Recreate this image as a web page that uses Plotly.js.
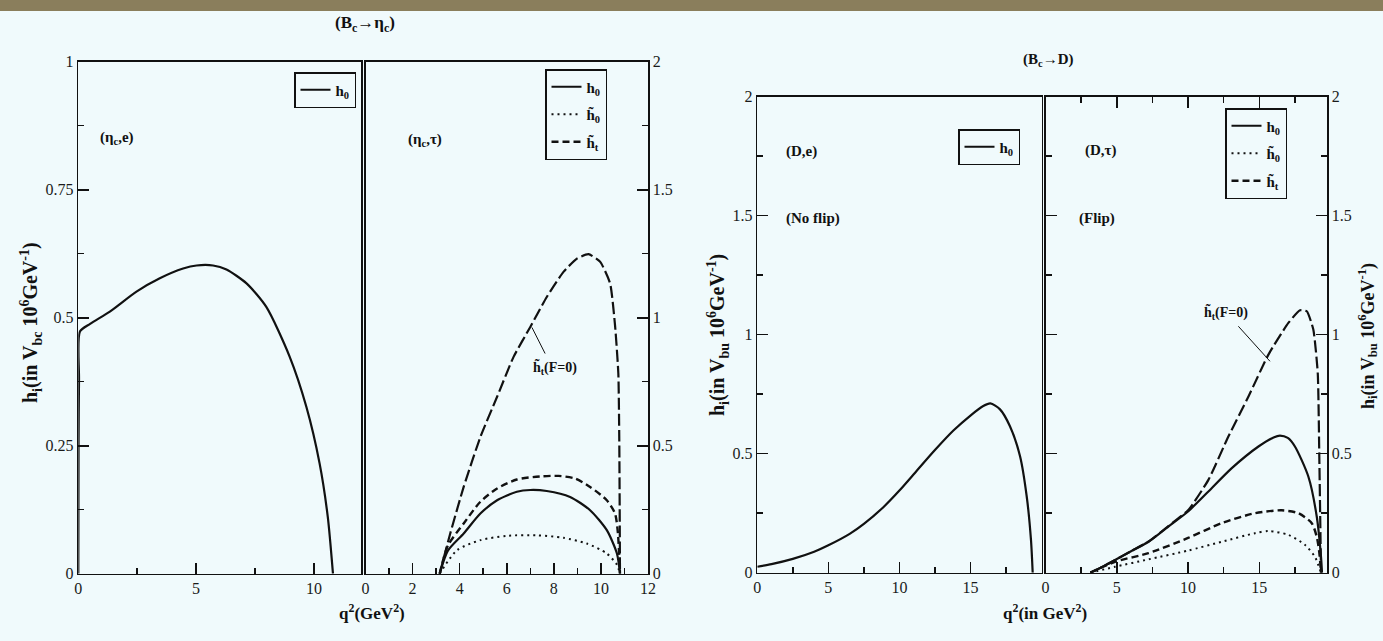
<!DOCTYPE html>
<html>
<head>
<meta charset="utf-8">
<script src="https://cdn.plot.ly/plotly-3.0.1.min.js"></script>
<style>
  html, body { margin: 0; padding: 0; background: #f0fafc; }
  #chart { width: 1383px; height: 641px; }
</style>
</head>
<body>
<div id="chart"></div>
<script>
// ---------------- data ----------------
// Panel 1: Bc -> eta_c, electron mode
const etaE_q  = [0, 0.01, 0.03, 0.07, 0.5, 1.34, 2.47, 3.46, 4.45, 5.02, 5.72, 6.29, 7.14, 7.98, 8.97, 9.68, 10.24, 10.59, 10.81];
const etaE_h0 = [0, 0.25, 0.38, 0.473, 0.488, 0.512, 0.551, 0.577, 0.596, 0.602, 0.602, 0.594, 0.567, 0.521, 0.424, 0.326, 0.216, 0.111, 0];

// Panel 2: Bc -> eta_c, tau mode
const etaT_h0_q  = [3.15, 3.5, 4.17, 4.88, 5.59, 6.43, 7.0, 7.7, 8.69, 9.54, 10.25, 10.68, 10.81];
const etaT_h0    = [0, 0.09, 0.157, 0.235, 0.287, 0.32, 0.327, 0.323, 0.3, 0.248, 0.17, 0.079, 0];
const etaT_h0t_q = [3.15, 3.89, 4.88, 6.0, 7.28, 8.41, 9.4, 10.25, 10.68, 10.81];
const etaT_h0t   = [0, 0.092, 0.131, 0.148, 0.15, 0.14, 0.118, 0.079, 0.035, 0];
const etaT_htt_q = [3.15, 3.5, 4.17, 4.88, 5.59, 6.43, 7.42, 8.2, 8.9, 9.54, 10.25, 10.6, 10.72, 10.81];
const etaT_htt   = [0, 0.11, 0.196, 0.281, 0.333, 0.368, 0.38, 0.382, 0.372, 0.339, 0.287, 0.235, 0.16, 0];
const etaT_f0_q  = [3.15, 3.6, 4.17, 4.88, 5.59, 6.29, 7.0, 7.7, 8.41, 8.98, 9.47, 9.97, 10.39, 10.6, 10.74, 10.78, 10.81];
const etaT_f0    = [0, 0.157, 0.339, 0.534, 0.691, 0.847, 0.964, 1.081, 1.179, 1.231, 1.248, 1.218, 1.134, 0.97, 0.782, 0.521, 0];

// Panel 3: Bc -> D, electron mode
const dE_q  = [0, 1, 2.5, 4, 5, 6.5, 7.5, 8.87, 10, 11.22, 12.5, 13.8, 15.0, 15.9, 16.4, 17.08, 17.78, 18.49, 18.96, 19.26, 19.38];
const dE_h0 = [0.025, 0.036, 0.058, 0.088, 0.115, 0.163, 0.205, 0.275, 0.345, 0.428, 0.515, 0.597, 0.66, 0.7, 0.711, 0.686, 0.615, 0.489, 0.32, 0.138, 0];

// Panel 4: Bc -> D, tau mode
const dT_h0_q  = [3.15, 4.0, 4.88, 6.0, 7.22, 8.62, 10.0, 11.43, 13.07, 14.94, 16.0, 16.45, 17.0, 17.5, 18.44, 19.03, 19.33, 19.4];
const dT_h0    = [0, 0.025, 0.053, 0.09, 0.13, 0.194, 0.257, 0.341, 0.439, 0.53, 0.568, 0.576, 0.566, 0.53, 0.404, 0.236, 0.067, 0];
const dT_h0t_q = [3.15, 4.88, 7.22, 10.0, 12.36, 14.7, 15.64, 17.04, 18.2, 18.9, 19.33];
const dT_h0t   = [0, 0.025, 0.056, 0.093, 0.13, 0.166, 0.175, 0.159, 0.117, 0.067, 0];
const dT_htt_q = [3.15, 4.88, 7.22, 10.0, 12.36, 14.7, 16.57, 17.74, 18.68, 19.03, 19.2, 19.33];
const dT_htt   = [0, 0.046, 0.082, 0.146, 0.208, 0.25, 0.262, 0.25, 0.208, 0.151, 0.09, 0];
const dT_f0_q  = [3.15, 4.0, 4.88, 6.0, 7.22, 8.62, 10.0, 11.43, 12.83, 14.24, 15.64, 17.04, 17.86, 18.33, 18.79, 19.1, 19.21, 19.33];
const dT_f0    = [0, 0.025, 0.053, 0.09, 0.13, 0.196, 0.262, 0.39, 0.572, 0.74, 0.916, 1.049, 1.102, 1.098, 1.021, 0.839, 0.488, 0];

// legend labels
const lblH0  = 'h<sub>0</sub>';
const lblH0t = 'h\u0303<sub>0</sub>';
const lblHtt = 'h\u0303<sub>t</sub>';

// ---------------- styling ----------------
const W = 1383, H = 641;
const FONT = 'Liberation Serif, Times New Roman, serif';
const INK = '#111';
const px = v => v / W;          // horizontal pixel -> paper
const py = v => 1 - v / H;      // vertical pixel -> paper

const SOLID = {color: INK, width: 2.2, shape: 'spline', smoothing: 0.7};
const DOT   = {color: INK, width: 2, dash: '2px,4px', shape: 'spline', smoothing: 0.7};
const DASH  = {color: INK, width: 2.4, dash: '7px,4px', shape: 'spline', smoothing: 0.7};
const LDASH = {color: INK, width: 2.2, dash: '12px,4px', shape: 'spline', smoothing: 0.5};

function tr(x, y, xa, ya, line, name, legend, show) {
  return {type: 'scatter', mode: 'lines', x: x, y: y, xaxis: xa, yaxis: ya,
          line: line, name: name, legend: legend, showlegend: show,
          legendgroup: name + legend, hoverinfo: 'skip'};
}

const traces = [
  tr(etaE_q, etaE_h0, 'x', 'y', SOLID, lblH0, 'legend', true),

  tr(etaT_h0_q, etaT_h0, 'x2', 'y2', SOLID, lblH0, 'legend2', true),
  tr(etaT_h0t_q, etaT_h0t, 'x2', 'y2', DOT, lblH0t, 'legend2', true),
  tr(etaT_htt_q, etaT_htt, 'x2', 'y2', DASH, lblHtt, 'legend2', true),
  tr(etaT_f0_q, etaT_f0, 'x2', 'y2', LDASH, 'F=0', 'legend2', false),

  tr(dE_q, dE_h0, 'x3', 'y3', SOLID, lblH0, 'legend3', true),

  tr(dT_h0_q, dT_h0, 'x4', 'y4', SOLID, lblH0, 'legend4', true),
  tr(dT_h0t_q, dT_h0t, 'x4', 'y4', DOT, lblH0t, 'legend4', true),
  tr(dT_htt_q, dT_htt, 'x4', 'y4', DASH, lblHtt, 'legend4', true),
  tr(dT_f0_q, dT_f0, 'x4', 'y4', LDASH, 'F=0', 'legend4', false)
];

const tickFont = {family: FONT, size: 16, color: '#1a1a1a'};
function axis(domain, range, dtick, minorDtick, anchor, side, mirror, extra) {
  return Object.assign({
    domain: domain, range: range, anchor: anchor, side: side,
    dtick: dtick, tick0: 0, ticks: 'inside', ticklen: 11, tickwidth: 1.6, tickcolor: INK,
    minor: {dtick: minorDtick, tick0: 0, ticks: 'inside', ticklen: 6, tickwidth: 1.5, tickcolor: INK},
    showline: true, linecolor: INK, linewidth: 1.5, mirror: mirror,
    showgrid: false, zeroline: false, fixedrange: true,
    tickfont: tickFont, automargin: false
  }, extra || {});
}

const yA = [py(573.7), py(61.7)];
const yB = [py(572.7), py(96.5)];

const legendBase = {
  bgcolor: 'rgba(0,0,0,0)', bordercolor: INK, borderwidth: 1.5,
  font: {family: FONT, size: 15, color: INK, weight: 'bold'},
  xanchor: 'right', yanchor: 'top', itemwidth: 30, tracegroupgap: 5,
  traceorder: 'grouped'
};

const annFont = {family: FONT, size: 15, color: INK};
function note(text, xp, yp, extra) {
  return Object.assign({text: text, xref: 'paper', yref: 'paper', x: px(xp), y: py(yp),
          xanchor: 'center', yanchor: 'middle', showarrow: false, font: annFont}, extra || {});
}
const bigFont = {family: FONT, size: 17, color: INK};
const yTitleFont = {family: FONT, size: 20, color: INK};

const layout = {
  width: W, height: H,
  margin: {l: 0, r: 0, t: 0, b: 0, pad: 0},
  paper_bgcolor: '#f0fafc', plot_bgcolor: 'rgba(0,0,0,0)',
  font: {family: FONT, color: INK},
  xaxis:  axis([px(78.3), px(361)], [0, 12], 5, 2.5, 'y', 'bottom', true),
  yaxis:  axis(yA, [0, 1], 0.25, 0.125, 'x', 'left', true),
  xaxis2: axis([px(365.5), px(648)], [0, 12], 2, 1, 'y2', 'bottom', true),
  yaxis2: axis(yA, [0, 2], 0.5, 0.25, 'x2', 'right', true),
  xaxis3: axis([px(757.3), px(1041.5)], [0, 20], 5, 2.5, 'y3', 'bottom', true,
               {tickmode: 'array', tickvals: [0, 5, 10, 15]}),
  yaxis3: axis(yB, [0, 2], 0.5, 0.25, 'x3', 'left', true),
  xaxis4: axis([px(1045.5), px(1327)], [0, 19.75], 5, 2.5, 'y4', 'bottom', 'ticks'),
  yaxis4: axis(yB, [0, 2], 0.5, 0.25, 'x4', 'right', 'ticks'),
  legend:  Object.assign({}, legendBase, {x: px(356), y: py(72)}),
  legend2: Object.assign({}, legendBase, {x: px(607), y: py(69)}),
  legend3: Object.assign({}, legendBase, {x: px(1020), y: py(129)}),
  legend4: Object.assign({}, legendBase, {x: px(1287), y: py(108)}),
  shapes: [
    {type: 'rect', xref: 'paper', yref: 'paper', x0: 0, x1: 1, y0: py(11), y1: 1,
     fillcolor: '#8a7e5c', line: {width: 0}, layer: 'below'},
    {type: 'line', xref: 'x2', yref: 'y2', x0: 7.07, y0: 0.962, x1: 7.63, y1: 0.86,
     line: {color: INK, width: 1}},
    {type: 'line', xref: 'x4', yref: 'y4', x0: 13.53, y0: 1.035, x1: 15.75, y1: 0.888,
     line: {color: INK, width: 1}}
  ],
  annotations: [
    note('<b>(B<sub>c</sub>\u2192\u03b7<sub>c</sub>)</b>', 365, 24, {font: bigFont}),
    note('<b>(B<sub>c</sub>\u2192D)</b>', 1048, 60, {font: {family: FONT, size: 15, color: INK}}),
    note('<b>q<sup>2</sup>(GeV<sup>2</sup>)</b>', 372, 612, {font: bigFont}),
    note('<b>q<sup>2</sup>(in GeV<sup>2</sup>)</b>', 1045, 612, {font: bigFont}),
    note('<b>h<sub>i</sub>(in V<sub>bc</sub> 10<sup>6</sup>GeV<sup>-1</sup>)</b>', 31, 323, {textangle: -90, font: yTitleFont}),
    note('<b>h<sub>i</sub>(in V<sub>bu</sub> 10<sup>6</sup>GeV<sup>-1</sup>)</b>', 718, 335, {textangle: -90, font: yTitleFont}),
    note('<b>h<sub>i</sub>(in V<sub>bu</sub> 10<sup>6</sup>GeV<sup>-1</sup>)</b>', 1367, 336, {textangle: -90, font: {family: FONT, size: 18, color: INK}}),
    note('<b>(\u03b7<sub>c</sub>,e)</b>', 117, 138),
    note('<b>(\u03b7<sub>c</sub>,\u03c4)</b>', 425, 140),
    note('<b>(D,e)</b>', 801, 151),
    note('<b>(No flip)</b>', 813, 219),
    note('<b>(D,\u03c4)</b>', 1101, 150),
    note('<b>(Flip)</b>', 1097, 219),
    note('<b>h\u0303<sub>t</sub>(F=0)</b>', 555, 367, {font: {family: FONT, size: 14, color: INK}}),
    note('<b>h\u0303<sub>t</sub>(F=0)</b>', 1226, 312, {font: {family: FONT, size: 14, color: INK}})
  ]
};

Plotly.newPlot('chart', traces, layout, {displayModeBar: false, staticPlot: true});
</script>
</body>
</html>
